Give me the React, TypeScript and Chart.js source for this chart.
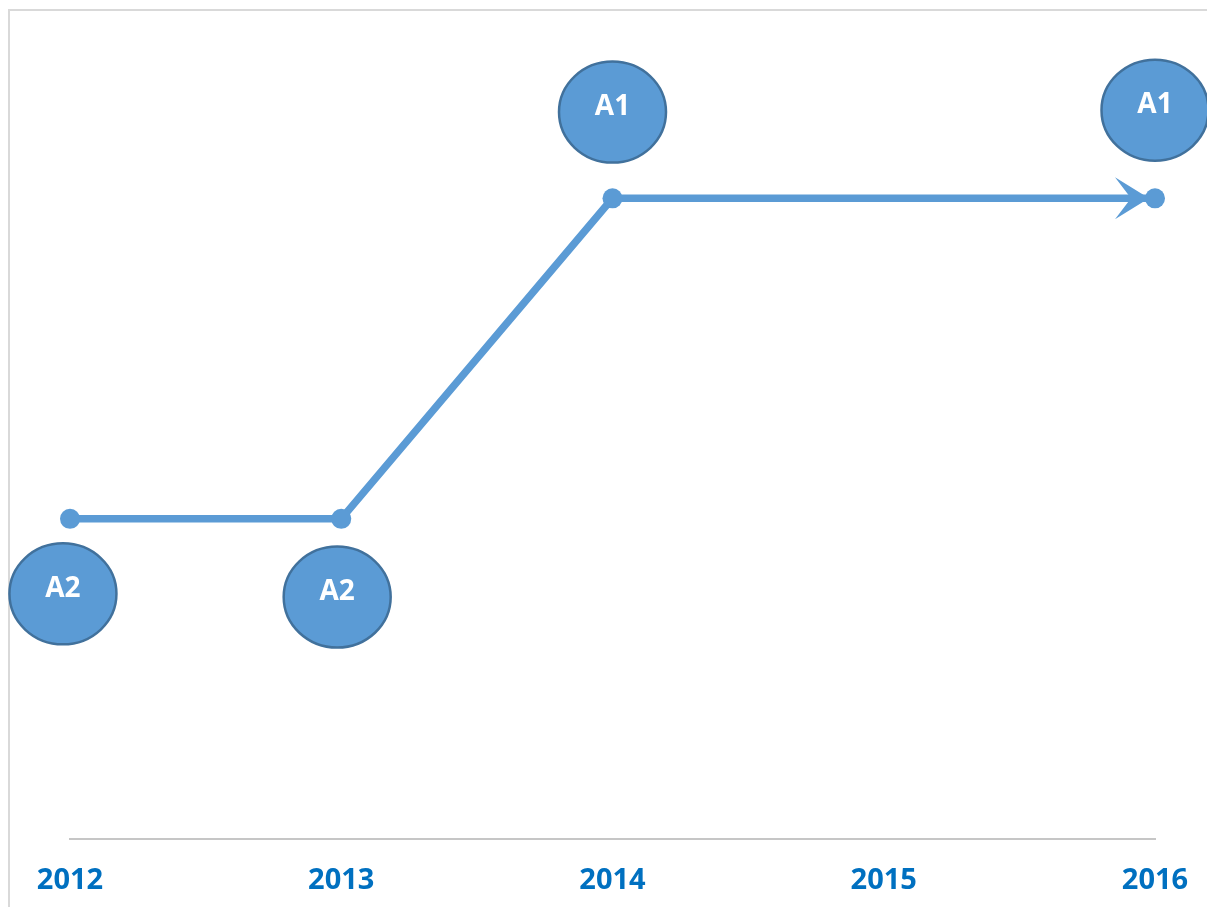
import React, { useEffect, useRef } from "react";
import { Chart, registerables } from "chart.js";

Chart.register(...registerables);

const years = [2012, 2013, 2014, 2015, 2016];
const values: (number | null)[] = [1, 1, 2, null, 2];
const bubbleLabels = ["A2", "A2", "A1", "A1"];
const bubbleX = [2011.974, 2012.985, 2014, 2016];
const bubbleY = [0.766, 0.756, 2.269, 2.275];

const LINE = "#5b9bd5";
const BUBBLE_FILL = "#5b9bd5";
const BUBBLE_STROKE = "#41719c";
const TICK = "#0070c0";

const decorPlugin = {
  id: "decor",
  afterDatasetsDraw(chart: any) {
    const ctx = chart.ctx;
    const xs = chart.scales.x;
    const ys = chart.scales.y;
    const meta = chart.getDatasetMeta(0);
    const pts = meta.data.filter((p: any, i: number) => values[i] !== null && !p.skip);
    if (pts.length >= 2) {
      const a = pts[pts.length - 2];
      const b = pts[pts.length - 1];
      const ang = Math.atan2(b.y - a.y, b.x - a.x);
      ctx.save();
      ctx.translate(b.x, b.y);
      ctx.rotate(ang);
      ctx.beginPath();
      ctx.moveTo(-6, 0);
      ctx.lineTo(-40, -21);
      ctx.lineTo(-24, 0);
      ctx.lineTo(-40, 21);
      ctx.closePath();
      ctx.fillStyle = LINE;
      ctx.fill();
      ctx.restore();
    }
    ctx.save();
    for (let i = 0; i < bubbleLabels.length; i++) {
      const cx = xs.getPixelForValue(bubbleX[i]);
      const cy = ys.getPixelForValue(bubbleY[i]);
      ctx.beginPath();
      ctx.ellipse(cx, cy, 53.5, 50.5, 0, 0, Math.PI * 2);
      ctx.fillStyle = BUBBLE_FILL;
      ctx.fill();
      ctx.lineWidth = 2.5;
      ctx.strokeStyle = BUBBLE_STROKE;
      ctx.stroke();
      ctx.fillStyle = "#ffffff";
      ctx.font = "bold 28px 'Open Sans'";
      ctx.textAlign = "center";
      ctx.textBaseline = "middle";
      ctx.fillText(bubbleLabels[i], cx, cy - 5);
    }
    ctx.restore();
  },
};

export default function App() {
  const ref = useRef<HTMLCanvasElement | null>(null);
  useEffect(() => {
    if (!ref.current) return;
    const chart = new Chart(ref.current, {
      type: "line",
      data: {
        datasets: [
          {
            data: years.map((y, i) => ({ x: y, y: values[i] })) as any,
            borderColor: LINE,
            backgroundColor: LINE,
            borderWidth: 7.5,
            pointRadius: 10,
            pointBorderWidth: 0,
            pointBackgroundColor: LINE,
            spanGaps: true,
            tension: 0,
            clip: false as any,
          },
        ],
      },
      options: {
        animation: false,
        responsive: false,
        maintainAspectRatio: false,
        layout: { padding: { left: 70, right: 52, top: 10, bottom: 14 } },
        plugins: { legend: { display: false }, tooltip: { enabled: false } },
        scales: {
          x: {
            type: "linear",
            min: 2012,
            max: 2016,
            offset: false,
            grid: { display: false, drawTicks: false },
            border: { display: true, color: "#c6c6c6", width: 2 },
            ticks: {
              stepSize: 1,
              padding: 0,
              color: TICK,
              font: { family: "'Open Sans'", size: 29, weight: "bold", lineHeight: 2.85 },
              callback: (v: any) => String(v),
              maxRotation: 0,
              autoSkip: false,
            },
          },
          y: {
            display: false,
            min: 0,
            max: 2.5875,
          },
        },
      },
      plugins: [decorPlugin],
    });
    return () => chart.destroy();
  }, []);
  return (
    <div style={{ position: "absolute", left: 0, top: 0, width: 1207, height: 907, background: "#fff", overflow: "hidden" }}>
      <div
        style={{
          position: "absolute",
          left: 8,
          top: 9,
          width: 1207,
          height: 907,
          borderTop: "2px solid #d9d9d9",
          borderLeft: "2px solid #d9d9d9",
        }}
      />
      <canvas ref={ref} width={1207} height={936} style={{ position: "absolute", left: 0, top: 0 }} />
    </div>
  );
}
